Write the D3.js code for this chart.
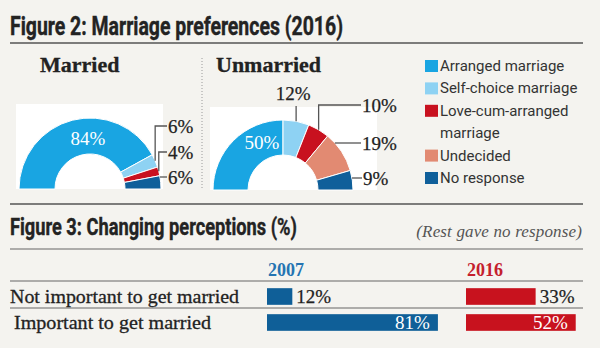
<!DOCTYPE html>
<html><head><meta charset="utf-8">
<script src="https://cdn.jsdelivr.net/npm/d3@7"></script>
<style>html,body{margin:0;padding:0;background:#f4f3ef;}svg{display:block;}</style>
</head><body>
<script>
// ---------- data ----------
const categories = ["Arranged marriage", "Self-choice marriage", "Love-cum-arranged\nmarriage", "Undecided", "No response"];
const marriedValues = [84, 6, 4, 0, 6];
const unmarriedValues = [50, 12, 10, 19, 9];
const rowLabels = ["Not important to get married", "Important to get married"];
const years = ["2007", "2016"];
const values2007 = [12, 81];
const values2016 = [33, 52];

// ---------- styles ----------
const sliceColors = ["#19a5e2", "#8ed2f3", "#c8111f", "#e28a72", "#0f5f9a"];
const yearBarColors = ["#0f5f98", "#c8121e"];
const yearTextColors = ["#2474b2", "#c4202d"];
const serif = "'Liberation Serif', 'DejaVu Serif', serif";
const sans = "Roboto, 'Liberation Sans', sans-serif";

const W = 600, H = 348;
const svg = d3.select("body").append("svg").attr("width", W).attr("height", H);
svg.append("rect").attr("width", W).attr("height", H).attr("fill", "#f4f3ef");

// ---------- Figure 2 header ----------
svg.append("text").attr("x", 10).attr("y", 35)
  .attr("font-family", sans).attr("font-weight", 700).attr("font-size", 25)
  .attr("fill", "#232323").attr("stroke", "#232323").attr("stroke-width", 0.4)
  .attr("textLength", 333).attr("lengthAdjust", "spacingAndGlyphs")
  .text("Figure 2:  Marriage preferences (2016)");
svg.append("line").attr("x1", 10).attr("x2", 583).attr("y1", 43).attr("y2", 43)
  .attr("stroke", "#555").attr("stroke-width", 1.3);

svg.append("line").attr("x1", 202).attr("x2", 202).attr("y1", 58).attr("y2", 190)
  .attr("stroke", "#9a9a9a").attr("stroke-width", 1).attr("stroke-dasharray", "1,2");

// ---------- donuts ----------
const pie = d3.pie().sort(null).startAngle(-Math.PI / 2).endAngle(Math.PI / 2).value(d => d.v);

function drawDonut(values, title, cfg) {
  const g = svg.append("g");
  g.append("text").attr("x", cfg.titleX).attr("y", 72)
    .attr("font-family", serif).attr("font-weight", 700).attr("font-size", 22)
    .attr("fill", "#222").attr("stroke", "#222").attr("stroke-width", 0.3).text(title);
  g.append("rect").attr("x", cfg.box[0]).attr("y", cfg.box[1])
    .attr("width", cfg.box[2] - cfg.box[0]).attr("height", cfg.box[3] - cfg.box[1]).attr("fill", "#fff");
  const arcs = pie(values.map((v, i) => ({ v, i })));
  const arc = d3.arc().innerRadius(cfg.ri).outerRadius(cfg.ro);
  const cg = g.append("g").attr("transform", `translate(${cfg.cx},${cfg.cy})`);
  cg.selectAll("path").data(arcs.filter(a => a.data.v > 0)).join("path")
    .attr("d", arc).attr("fill", a => sliceColors[a.data.i])
    .attr("stroke", "#fff").attr("stroke-width", 1);
  // inner label
  cg.append("text").attr("x", cfg.inner[0]).attr("y", cfg.inner[1])
    .attr("text-anchor", "middle").attr("dominant-baseline", "central")
    .attr("font-family", serif).attr("font-size", 19).attr("fill", "#fff")
    .text(values[0] + "%");
  // leader labels
  cfg.labels.forEach(L => {
    const a = arcs[L.i];
    const R = cfg.ro;
    let pts;
    if (L.mode === "horiz") {
      const dy = cfg.cy - L.ly;
      const sx = cfg.cx + Math.sqrt(R * R - dy * dy);
      pts = [[sx, L.ly], [L.lx, L.ly]];
    } else {
      const m = (a.startAngle + a.endAngle) / 2;
      const sx = cfg.cx + R * Math.sin(m), sy = cfg.cy - R * Math.cos(m);
      if (L.mode === "up") pts = [[sx, sy], [sx, L.ly]];
      else pts = [[sx, sy], [sx, L.ly], [L.lx, L.ly]];
    }
    g.append("path").attr("d", d3.line()(pts)).attr("fill", "none")
      .attr("stroke", "#555").attr("stroke-width", 1.3);
    const t = g.append("text").attr("font-family", serif).attr("font-size", 19)
      .attr("fill", "#222").attr("stroke", "#222").attr("stroke-width", 0.25)
      .attr("dominant-baseline", "central").text(values[L.i] + "%");
    if (L.mode === "up") t.attr("x", pts[0][0] - 3).attr("y", L.ty).attr("text-anchor", "middle");
    else t.attr("x", L.lx + 1).attr("y", L.ly);
  });
}

drawDonut(marriedValues, "Married", {
  titleX: 40, box: [16, 104, 163, 189], cx: 90, cy: 189, ri: 35, ro: 71, inner: [-2, -51],
  labels: [
    { i: 1, mode: "elbow", ly: 126, lx: 167 },
    { i: 2, mode: "elbow", ly: 152, lx: 167 },
    { i: 4, mode: "horiz", ly: 177, lx: 167 }
  ]
});
drawDonut(unmarriedValues, "Unmarried", {
  titleX: 216, box: [210, 107, 377, 190], cx: 283, cy: 190, ri: 35, ro: 70, inner: [-21, -48],
  labels: [
    { i: 1, mode: "up", ly: 106, ty: 93 },
    { i: 2, mode: "elbow", ly: 105, lx: 361 },
    { i: 3, mode: "horiz", ly: 143, lx: 361 },
    { i: 4, mode: "horiz", ly: 178, lx: 362 }
  ]
});

// ---------- legend ----------
const lg = svg.append("g");
let ly = 66;
categories.forEach((c, i) => {
  lg.append("rect").attr("x", 425).attr("y", ly - 6).attr("width", 13).attr("height", 12)
    .attr("fill", sliceColors[i]);
  c.split("\n").forEach(line => {
    lg.append("text").attr("x", 440).attr("y", ly).attr("dominant-baseline", "central")
      .attr("font-family", sans).attr("font-size", 15).attr("fill", "#333")
      .text(line);
    ly += 22.4;
  });
});

// ---------- Figure 3 ----------
svg.append("line").attr("x1", 10).attr("x2", 583).attr("y1", 204).attr("y2", 204)
  .attr("stroke", "#555").attr("stroke-width", 1.3);
svg.append("text").attr("x", 10).attr("y", 235)
  .attr("font-family", sans).attr("font-weight", 700).attr("font-size", 24)
  .attr("fill", "#232323").attr("stroke", "#232323").attr("stroke-width", 0.4)
  .attr("textLength", 287).attr("lengthAdjust", "spacingAndGlyphs")
  .text("Figure 3: Changing perceptions (%)");
svg.append("text").attr("x", 582).attr("y", 231).attr("text-anchor", "end")
  .attr("dominant-baseline", "central")
  .attr("font-family", serif).attr("font-style", "italic").attr("font-size", 17)
  .attr("fill", "#555").attr("letter-spacing", 0.15).text("(Rest gave no response)");
[249, 281, 308].forEach(y => {
  svg.append("line").attr("x1", 10).attr("x2", 583).attr("y1", y).attr("y2", y)
    .attr("stroke", "#666").attr("stroke-width", 1.2);
});

const xScale = d3.scaleLinear().domain([0, 100]).range([0, 211]);
const yScale = d3.scaleBand().domain(rowLabels).range([283.5, 335.5]).paddingInner(0.36).paddingOuter(0.18);
const groupX = d3.scaleOrdinal().domain(years).range([267, 466]);
const seriesByYear = [values2007, values2016];

rowLabels.forEach((r, i) => {
  const x = i === 0 ? 10 : 14;
  svg.append("text").attr("x", x).attr("y", yScale(r) + yScale.bandwidth() / 2)
    .attr("dominant-baseline", "central").attr("font-family", serif).attr("font-size", 19)
    .attr("fill", "#222").attr("stroke", "#222").attr("stroke-width", 0.3)
    .attr("textLength", i === 0 ? 229 : 197).attr("lengthAdjust", "spacingAndGlyphs")
    .text(r);
});

years.forEach((yr, k) => {
  const x0 = groupX(yr);
  svg.append("text").attr("x", x0 + 1).attr("y", 276)
    .attr("font-family", serif).attr("font-weight", 700).attr("font-size", 18)
    .attr("fill", yearTextColors[k]).text(yr);
  const g = svg.append("g");
  const vals = seriesByYear[k];
  g.selectAll("rect").data(vals).join("rect")
    .attr("x", x0).attr("y", (d, i) => yScale(rowLabels[i]))
    .attr("width", d => xScale(d)).attr("height", yScale.bandwidth())
    .attr("fill", yearBarColors[k]);
  g.selectAll("text").data(vals).join("text")
    .attr("x", d => d > 40 ? x0 + xScale(d) - 8 : x0 + xScale(d) + 4)
    .attr("y", (d, i) => yScale(rowLabels[i]) + yScale.bandwidth() / 2)
    .attr("text-anchor", d => d > 40 ? "end" : "start")
    .attr("dominant-baseline", "central")
    .attr("font-family", serif).attr("font-size", 19)
    .attr("fill", d => d > 40 ? "#fff" : "#222")
    .attr("stroke", d => d > 40 ? "none" : "#222").attr("stroke-width", 0.25)
    .text(d => d + "%");
});
</script>
</body></html>
